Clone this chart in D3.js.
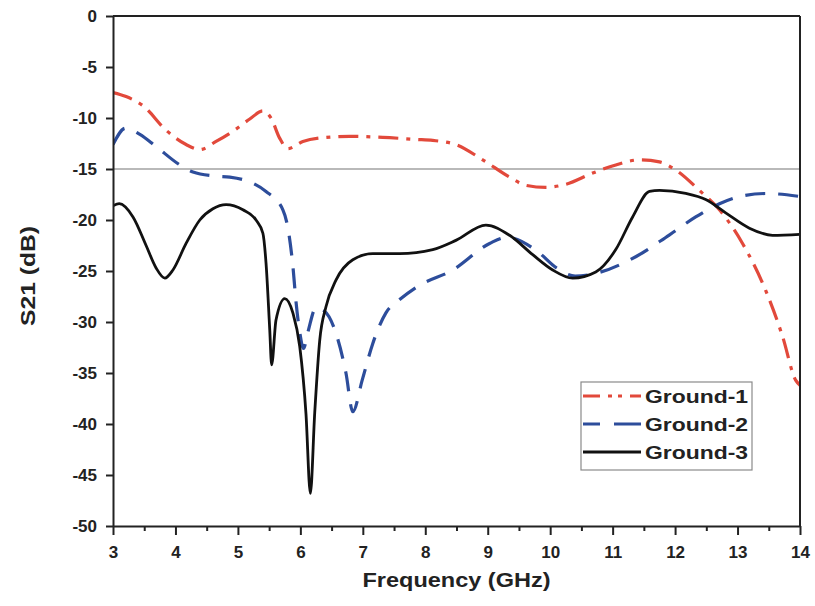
<!DOCTYPE html>
<html>
<head>
<meta charset="utf-8">
<script src="https://cdn.jsdelivr.net/npm/d3@7/dist/d3.min.js"></script>
<style>
  html, body { margin: 0; padding: 0; background: #fff; }
  svg { display: block; font-family: "Liberation Sans", Arial, sans-serif; font-weight: bold; }
</style>
</head>
<body>
<svg id="chart" width="815" height="606"></svg>
<script>
// Transmission coefficient S21 (dB) versus frequency for three ground plane variants
const seriesNames = ["Ground-1", "Ground-2", "Ground-3"];

const freqG1 = [3.0, 3.21, 3.48, 3.85, 4.17, 4.39, 4.65, 4.92, 5.19, 5.40, 5.53, 5.67, 5.80, 6.04, 6.41, 6.79, 7.32, 7.85, 8.12, 8.49, 8.92, 9.35, 9.61, 9.93, 10.25, 10.68, 11.05, 11.43, 11.75, 12.01, 12.39, 12.71, 13.08, 13.45, 13.72, 13.93, 14.0];
const s21G1 = [-7.5, -7.9, -8.8, -11.2, -12.6, -13.1, -12.3, -11.3, -10.1, -9.3, -10.0, -12.0, -13.0, -12.3, -11.9, -11.8, -11.9, -12.1, -12.2, -12.6, -14.1, -15.8, -16.6, -16.8, -16.5, -15.4, -14.6, -14.1, -14.3, -15.1, -17.1, -19.0, -22.3, -26.9, -31.4, -35.7, -36.2];

const freqG2 = [3.0, 3.2, 3.43, 3.69, 4.07, 4.28, 4.65, 4.87, 5.24, 5.45, 5.72, 5.82, 5.88, 5.93, 5.99, 6.05, 6.12, 6.25, 6.38, 6.57, 6.73, 6.84, 6.99, 7.16, 7.37, 7.59, 7.88, 8.44, 9.03, 9.3, 9.8, 10.1, 10.4, 10.68, 11.37, 11.9, 12.33, 12.71, 13.03, 13.45, 14.0];
const s21G2 = [-12.6, -11.0, -11.6, -12.8, -14.6, -15.3, -15.7, -15.8, -16.4, -17.2, -19.0, -21.5, -24.5, -28.0, -31.0, -32.6, -31.0, -28.6, -28.9, -31.1, -35.0, -38.8, -35.7, -32.1, -29.1, -27.8, -26.5, -24.9, -22.3, -21.7, -23.1, -24.7, -25.5, -25.3, -23.6, -21.5, -19.7, -18.4, -17.7, -17.4, -17.7];

const freqG3 = [3.0, 3.1, 3.32, 3.53, 3.69, 3.83, 3.96, 4.17, 4.39, 4.6, 4.81, 5.08, 5.29, 5.4, 5.45, 5.51, 5.54, 5.61, 5.75, 5.88, 5.99, 6.09, 6.16, 6.23, 6.31, 6.41, 6.57, 6.84, 7.16, 7.59, 8.12, 8.49, 8.97, 9.35, 9.72, 10.04, 10.36, 10.73, 11.05, 11.32, 11.59, 11.75, 12.17, 12.49, 12.81, 13.19, 13.56, 14.0];
const s21G3 = [-18.6, -18.4, -19.7, -22.5, -24.7, -25.7, -24.9, -22.3, -20.0, -18.9, -18.5, -19.0, -20.0, -21.3, -24.2, -30.8, -34.2, -29.8, -27.7, -29.1, -32.4, -39.0, -46.8, -38.9, -31.8, -28.5, -25.9, -23.9, -23.3, -23.3, -22.9, -22.0, -20.5, -21.5, -23.4, -24.9, -25.7, -25.1, -22.9, -19.7, -17.2, -17.1, -17.4, -18.0, -19.3, -20.8, -21.5, -21.4];

const xTicks = [3, 4, 5, 6, 7, 8, 9, 10, 11, 12, 13, 14];
const xMinorTicks = [3.5, 4.5, 5.5, 6.5, 7.5, 8.5, 9.5, 10.5, 11.5, 12.5, 13.5];
const yTicks = [0, -5, -10, -15, -20, -25, -30, -35, -40, -45, -50];
const referenceLevel = -15;

const margin = { top: 16, right: 15, bottom: 80, left: 113 };
const W = 815, H = 606;
const iw = W - margin.left - margin.right;
const ih = H - margin.top - margin.bottom;

const svg = d3.select("#chart");
const g = svg.append("g").attr("transform", `translate(${margin.left},${margin.top})`);

const x = d3.scaleLinear().domain([3, 14]).range([0, iw]);
const y = d3.scaleLinear().domain([-50, 0]).range([ih, 0]);

g.append("clipPath").attr("id", "plot-clip")
  .append("rect").attr("x", 0).attr("y", 0).attr("width", iw).attr("height", ih);

// -15 dB reference line
g.append("line")
  .attr("x1", 0).attr("x2", iw)
  .attr("y1", y(referenceLevel)).attr("y2", y(referenceLevel))
  .attr("stroke", "#b9b9b9").attr("stroke-width", 2);

const styles = [
  { color: "#e2493b", dash: "20,8,4,8", width: 3.2 },
  { color: "#2d4d9b", dash: "20,13", width: 3.2 },
  { color: "#111111", dash: null, width: 2.8 }
];

const series = [
  d3.zip(freqG1, s21G1),
  d3.zip(freqG2, s21G2),
  d3.zip(freqG3, s21G3)
];

const line = d3.line()
  .x(d => x(d[0]))
  .y(d => y(d[1]))
  .curve(d3.curveMonotoneX);

series.forEach((data, i) => {
  g.append("path")
    .datum(data)
    .attr("clip-path", "url(#plot-clip)")
    .attr("fill", "none")
    .attr("stroke", styles[i].color)
    .attr("stroke-width", styles[i].width)
    .attr("stroke-dasharray", styles[i].dash)
    .attr("stroke-linejoin", "round")
    .attr("d", line);
});

// Frame on top and right
g.append("line").attr("x1", 0).attr("x2", iw).attr("y1", 0).attr("y2", 0)
  .attr("stroke", "#222").attr("stroke-width", 2);
g.append("line").attr("x1", iw).attr("x2", iw).attr("y1", 0).attr("y2", ih)
  .attr("stroke", "#222").attr("stroke-width", 2);

// Plain hyphen-minus labels
const plain = d => String(d);

// Bottom axis with major and minor ticks
const xAxis = g.append("g").attr("transform", `translate(0,${ih})`)
  .call(d3.axisBottom(x).tickValues(xTicks).tickFormat(plain).tickSize(9).tickPadding(11).tickSizeOuter(0));
const xMinor = g.append("g").attr("transform", `translate(0,${ih})`)
  .call(d3.axisBottom(x).tickValues(xMinorTicks).tickFormat("").tickSize(5).tickSizeOuter(0));

const yAxis = g.append("g")
  .call(d3.axisLeft(y).tickValues(yTicks).tickFormat(plain).tickSize(7).tickPadding(9).tickSizeOuter(0));

[xAxis, xMinor, yAxis].forEach(a => {
  a.select(".domain").attr("stroke", "#222").attr("stroke-width", 2);
  a.selectAll(".tick line").attr("stroke", "#222").attr("stroke-width", 2);
  a.selectAll(".tick text")
    .attr("fill", "#222")
    .style("font-size", "17px")
    .style("font-weight", "bold")
    .style("font-family", "'Liberation Sans', Arial, sans-serif");
});
xMinor.select(".domain").remove();

// Axis titles
svg.append("text")
  .attr("x", margin.left + iw / 2).attr("y", 587)
  .attr("text-anchor", "middle")
  .attr("textLength", 188).attr("lengthAdjust", "spacingAndGlyphs")
  .style("font-size", "20px").attr("fill", "#222")
  .text("Frequency (GHz)");

svg.append("text")
  .attr("transform", `translate(35,${margin.top + ih / 2 + 5}) rotate(-90)`)
  .attr("text-anchor", "middle")
  .attr("textLength", 100).attr("lengthAdjust", "spacingAndGlyphs")
  .style("font-size", "20px").attr("fill", "#222")
  .text("S21 (dB)");

// Legend
const legend = svg.append("g");
legend.append("rect")
  .attr("x", 581).attr("y", 382).attr("width", 171).attr("height", 88)
  .attr("fill", "#fff").attr("stroke", "#8a8a8a").attr("stroke-width", 1.2);

seriesNames.forEach((name, i) => {
  const cy = 396 + i * 28;
  legend.append("line")
    .attr("x1", 583).attr("x2", 641).attr("y1", cy).attr("y2", cy)
    .attr("stroke", styles[i].color)
    .attr("stroke-width", styles[i].width)
    .attr("stroke-dasharray", i === 0 ? "17,8,4,6,4,8,17" : (i === 1 ? "17,14,40" : null));
  legend.append("text")
    .attr("x", 645).attr("y", cy + 7)
    .attr("textLength", 103).attr("lengthAdjust", "spacingAndGlyphs")
    .style("font-size", "19px").attr("fill", "#222")
    .text(name);
});
</script>
</body>
</html>
